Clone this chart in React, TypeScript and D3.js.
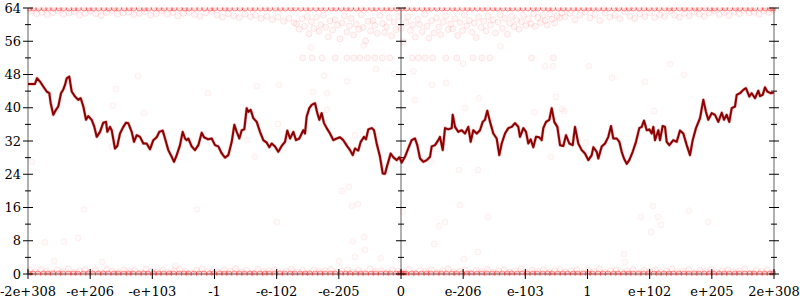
import React from 'react';
import * as d3 from 'd3';

// x axis: ordered positions (100 units per labelled tick)
const xTickLabels = ['-2e+308', '-e+206', '-e+103', '-1', '-e-102', '-e-205', '0', 'e-206', 'e-103', '1', 'e+102', 'e+205', '2e+308'];
const xTickPos = [0, 100, 200, 300, 400, 500, 600, 700, 800, 900, 1000, 1100, 1200];
const yMajorTicks = [0, 8, 16, 24, 32, 40, 48, 56, 64];
const yMinorTicks = [4, 12, 20, 28, 36, 44, 52, 60];
const axisPositions = [0, 600, 1200];

// running-average line
const lineData: [number, number][] = [
  [0, 45.7], [11, 45.7], [14.5, 47.1], [19.3, 46.3], [24.6, 45.1], [30.1, 43.9], [34.3, 43.5], [36.5, 41.1], [40.7, 38.3], [45, 39.5],
  [48.7, 40.3], [53.1, 43.5], [56.8, 44.4], [59.5, 45.5], [62.3, 47.1], [66.4, 47.5], [70.3, 43.9], [75.6, 42.7], [80.9, 41.9], [84.8, 42.3],
  [89, 40.3], [93.3, 37.1], [97, 38], [102.5, 37.1], [106.7, 35.4], [110.5, 33], [115.8, 34.2], [121.1, 36.4], [125.5, 36.6], [127.6, 34.2],
  [131.9, 35.4], [134.6, 34.6], [139.9, 30.2], [143.6, 30.8], [148, 33.8], [153.3, 35.4], [157.6, 36.4], [161.3, 36.3], [166.8, 34.2], [170.5, 31.8],
  [174.9, 33.4], [180.2, 33], [185.5, 31.4], [190.9, 31.4], [196.2, 30], [201.6, 32.2], [207, 32.9], [211.2, 34.2], [216.7, 34.5], [220.4, 32.6],
  [225.7, 29.8], [231.2, 28.2], [234.9, 27], [239.2, 28.6], [244.5, 31], [248.8, 34.2], [252.6, 32.6], [255.3, 32.2], [257.9, 32.6], [263.3, 30.7],
  [268.6, 29.8], [274, 31], [279.4, 34], [283.1, 32.9], [290, 32.4], [295.5, 32.6], [300.8, 31], [306.1, 30.7], [311.6, 29], [316.9, 28],
  [322.2, 28.6], [327.7, 31.8], [331.9, 35.9], [335.7, 34.2], [339.9, 32.6], [343.8, 34.6], [347.9, 34.8], [351.8, 39.9], [354.4, 39], [358.2, 39.5],
  [362.4, 37.5], [367.9, 36.6], [373.2, 34.2], [378.5, 32.2], [384, 31.6], [388.2, 30.5], [392, 31.4], [397.3, 30.7], [402.6, 29.4], [408.1, 30.8],
  [413.4, 31.8], [417.1, 34.5], [421.5, 32.6], [426.8, 34.2], [431.1, 32.2], [436.4, 32.6], [442.8, 34.6], [445.6, 33.8], [448.3, 37.9], [452.5, 39.9],
  [456.4, 40.7], [461.7, 41.1], [465.4, 38.7], [468.6, 37.1], [472.4, 38.7], [476.1, 36.3], [480.5, 35.1], [485.8, 33.8], [491.1, 32.2], [496.6, 32.6],
  [501.9, 32.9], [507.2, 32.2], [513.6, 30.7], [518, 29.8], [522.3, 28.6], [526, 30.2], [531.3, 29.7], [535.2, 31.8], [540.5, 33], [543.7, 32.4],
  [547.4, 34.8], [552.9, 35.1], [556.6, 34.6], [560.9, 31.4], [566.2, 28.2], [570.6, 24.2], [574.3, 24.1], [578, 26.2], [583.4, 29], [587.6, 28.1],
  [593.1, 27.4], [597.3, 28.1], [601.1, 26.8], [606.4, 28.2], [611.7, 30.2], [617.2, 32.2], [622.5, 32.6], [626.2, 31], [630.6, 27.8], [635.9, 27],
  [641.4, 27.4], [646.7, 28.2], [649.4, 30.7], [654.7, 31], [660, 32.2], [662.7, 33], [667.1, 29.8], [670.8, 35.1], [676.1, 34.8], [681.6, 35.1],
  [683.2, 38.3], [686.9, 35.4], [692.2, 34.2], [697.6, 34.6], [703, 33.8], [708.3, 35.4], [712.1, 31.8], [716.3, 34.6], [721.8, 33.8], [727.1, 34.6],
  [731.4, 36.6], [735.1, 37.1], [738.8, 39.3], [743.2, 36.6], [748.5, 33.8], [753.9, 32.6], [758.1, 28.6], [762, 31.4], [767.3, 33.8], [772.6, 35.1],
  [778.1, 35.4], [783.4, 36.3], [788.7, 35.4], [791.4, 33], [796.8, 35.1], [801.1, 34.2], [804.8, 31.4], [808.6, 32.4], [812.8, 30.5], [817.2, 33],
  [822.5, 32.9], [826.3, 32.2], [828.9, 35.1], [833.3, 36.6], [838.6, 37.1], [842.4, 39.9], [846.6, 36.6], [851.5, 35.4], [855.8, 31], [861.1, 30.8],
  [865.4, 33.4], [870.7, 31.4], [876.2, 31], [879.9, 35.4], [885.2, 31.4], [890.7, 29.8], [896, 29], [901.3, 27.4], [906.8, 28.6], [909.4, 30.5],
  [914.8, 29.4], [917.4, 27.8], [922.9, 30.7], [928.2, 31.4], [933.5, 33], [937.8, 35.6], [941.5, 32.6], [947, 32.6], [951.2, 31.8], [955, 29.4],
  [958.7, 27.8], [963.1, 26.5], [967.2, 27.4], [972.7, 29.4], [978, 31.8], [983.3, 35.1], [987.2, 35.4], [990.9, 36.9], [995.2, 34.6], [999.4, 34.8],
  [1003.3, 33.8], [1005.9, 35.4], [1008.6, 32.2], [1013.9, 34.6], [1016.6, 32.2], [1020.9, 35.6], [1024.7, 35.4], [1027.4, 31.8], [1031.6, 31], [1038, 32.2],
  [1043.5, 31.8], [1048.8, 34.5], [1054.1, 33.8], [1059.6, 31], [1064.9, 28.6], [1069.2, 32.2], [1074.5, 35.1], [1081, 37.5], [1086.3, 41.9], [1090.6, 39],
  [1094.3, 37.1], [1099.8, 38.7], [1105.1, 38.3], [1110.4, 36.6], [1115.9, 38.8], [1119.6, 37.1], [1123.9, 38.3], [1128.1, 36.6], [1132, 39.9], [1137.3, 40.3],
  [1140, 43.1], [1145.3, 43.5], [1150.6, 44.3], [1154.9, 44.7], [1160.3, 42.7], [1164.1, 43.5], [1169.5, 42.3], [1174.8, 44.1], [1177.5, 42.8], [1181.8, 43.1],
  [1185.5, 44.9], [1189.3, 43.9], [1194.7, 43.5], [1200, 43.7],
];

// samples that hit the upper bound (64)
const edgeTopU = [
  2, 9, 17, 26, 33, 41, 50, 57, 66, 74, 81, 90, 98, 105, 114, 122, 130, 139, 146, 155, 163, 170, 179, 187, 194, 203, 211, 219, 228, 235,
  244, 252, 259, 268, 276, 284, 293, 300, 309, 317, 324, 333, 341, 349, 358, 365, 374, 382, 389, 398, 406, 414, 423, 430, 439, 447, 454, 463, 471, 479,
  488, 495, 504, 512, 519, 528, 536, 544, 553, 560, 569, 577, 584, 593, 601, 609, 618, 625, 634, 642, 649, 658, 666, 674, 683, 690, 699, 707, 714, 723,
  731, 739, 748, 755, 764, 772, 779, 788, 796, 804, 813, 820, 829, 837, 844, 853, 861, 869, 878, 885, 894, 902, 909, 918, 926, 934, 943, 950, 959, 967,
  974, 983, 991, 999, 1008, 1015, 1024, 1032, 1039, 1048, 1056, 1064, 1073, 1080, 1089, 1097, 1104, 1113, 1121, 1129, 1138, 1145, 1154, 1162, 1169, 1178, 1186, 1194, 1199,
];

// samples that hit the lower bound (0)
const edgeBottomU = [
  1, 8, 16, 25, 32, 40, 49, 56, 65, 73, 80, 89, 97, 104, 113, 121, 129, 138, 145, 154, 162, 169, 178, 186, 193, 202, 210, 218, 227, 234,
  243, 251, 258, 267, 275, 283, 292, 299, 308, 316, 323, 332, 340, 348, 357, 364, 373, 381, 388, 397, 405, 413, 422, 429, 438, 446, 453, 462, 470, 478,
  487, 494, 503, 511, 518, 527, 535, 543, 552, 559, 568, 576, 583, 592, 598, 601, 604, 608, 617, 624, 633, 641, 648, 657, 665, 673, 682, 689, 698, 706,
  713, 722, 730, 738, 747, 754, 763, 771, 778, 787, 795, 803, 812, 819, 828, 836, 843, 852, 860, 868, 877, 884, 893, 901, 908, 917, 925, 933, 942, 949,
  958, 966, 973, 982, 990, 998, 1007, 1014, 1023, 1031, 1038, 1047, 1055, 1063, 1072, 1079, 1088, 1096, 1103, 1112, 1120, 1128, 1137, 1144, 1153, 1161, 1168, 1177, 1185, 1193, 1199,
];
// how many samples pile up at each bound position
const edgeRepeat = 5;

// samples just below the upper bound
const nearTop: [number, number][] = [
  [5, 63.2], [14, 62.6], [22, 63.0], [31, 62.4], [40, 62.9], [48, 63.3], [57, 62.5], [66, 62.8], [74, 63.1], [83, 62.3], [92, 62.7], [100, 63.2],
  [109, 62.6], [118, 62.2], [126, 62.9], [135, 63.4], [144, 62.5], [153, 62.8], [162, 63.0], [170, 62.4], [179, 62.7], [188, 63.1], [197, 62.3],
  [206, 62.6], [215, 63.3], [224, 62.5], [233, 62.9], [241, 62.1], [250, 62.7], [259, 63.0], [268, 62.4], [277, 62.0], [286, 62.8], [295, 63.2],
  [304, 62.3], [313, 61.8], [322, 62.6], [331, 62.1], [340, 61.7], [349, 62.5], [358, 61.9], [366, 62.3], [375, 61.5], [384, 62.0], [393, 61.2],
  [402, 61.8], [411, 60.8], [420, 61.5], [428, 60.5],
  [432, 60.2], [436, 58.9], [441, 61.4], [445, 59.6], [449, 62.0], [452, 57.8], [456, 60.7], [460, 59.1], [464, 61.8], [468, 58.4], [471, 60.0],
  [475, 62.3], [479, 59.4], [483, 57.1], [486, 60.9], [490, 58.7], [494, 61.2], [498, 59.9], [502, 56.6], [505, 60.4], [509, 62.1], [513, 58.2],
  [517, 59.7], [520, 61.5], [524, 57.5], [528, 60.1], [532, 58.9], [536, 62.4], [539, 59.3], [543, 56.1], [547, 60.8], [551, 58.5], [555, 61.0],
  [558, 59.8], [562, 57.9], [566, 62.2], [570, 60.3], [574, 58.1], [577, 59.5], [581, 61.7], [585, 57.3], [589, 60.6], [592, 58.8], [596, 62.0],
  [600, 59.2], [604, 55.9], [608, 60.5], [611, 61.9], [615, 58.6], [619, 59.9], [623, 57.0], [627, 61.3], [630, 60.0], [634, 58.3], [638, 62.5],
  [642, 59.6], [645, 56.8], [649, 60.9], [653, 58.0], [657, 61.6], [661, 59.4], [664, 57.6], [668, 60.7], [672, 62.1], [676, 58.8], [680, 60.2],
  [683, 59.0], [687, 61.4], [691, 57.4], [695, 60.5], [699, 58.6], [702, 62.3], [706, 59.7], [710, 61.0], [714, 58.2], [718, 60.4], [721, 56.9],
  [725, 61.8], [729, 59.3], [733, 60.8], [737, 58.5], [740, 62.0], [744, 59.9], [748, 61.2], [752, 58.0], [756, 60.6], [759, 62.4], [763, 59.1],
  [767, 61.5], [771, 57.7], [775, 60.3], [778, 62.0], [782, 59.5], [786, 61.1], [790, 58.9], [794, 60.7], [797, 62.3], [801, 59.8], [805, 61.4],
  [809, 60.2], [813, 62.6], [816, 59.6], [820, 61.7], [824, 60.5], [828, 62.2], [832, 61.0], [835, 59.9], [839, 62.5], [843, 61.3], [847, 60.4],
  [851, 62.1], [855, 61.6], [859, 62.8],
  [864, 61.9], [872, 62.7], [880, 61.2], [888, 62.3], [896, 63.0], [904, 61.6], [912, 62.4], [920, 61.0], [928, 62.8], [936, 61.8], [944, 62.2],
  [952, 61.4], [960, 63.1], [968, 62.0], [976, 61.5], [984, 62.6], [992, 61.9], [1000, 62.9], [1008, 61.7], [1016, 62.4], [1024, 62.0], [1032, 63.2],
  [1040, 62.3], [1048, 61.8], [1056, 62.7], [1064, 62.1], [1072, 63.0], [1080, 62.5], [1088, 62.0], [1096, 62.8], [1104, 63.3], [1112, 62.4],
  [1120, 62.9], [1128, 62.2], [1136, 63.1], [1144, 62.6], [1152, 63.4], [1160, 62.8], [1168, 63.0], [1176, 62.5], [1184, 63.3], [1192, 62.9], [1199, 63.5],
  [442, 52], [457, 52], [473, 52], [494, 52], [513, 52], [524, 52], [534, 52], [546, 52], [558, 52], [570, 52], [582, 52], [618, 52], [628, 52],
  [639, 52], [651, 52], [672, 52], [690, 52], [716, 52], [730, 52], [743, 52], [810, 52], [845, 52],
];

// samples just above the lower bound
const nearBottom: [number, number][] = [
  [3, 0.9], [12, 0.5], [21, 1.1], [30, 0.7], [39, 0.3], [47, 1.0], [56, 0.6], [65, 1.2], [74, 0.4], [83, 0.8], [92, 1.0], [100, 0.5], [109, 0.9],
  [118, 0.3], [127, 1.1], [136, 0.7], [145, 0.4], [154, 1.0], [163, 0.6], [172, 0.9], [181, 0.3], [190, 1.2], [199, 0.7], [208, 0.5], [217, 1.0],
  [226, 0.4], [235, 0.8], [244, 1.1], [253, 0.6], [262, 0.3], [271, 0.9], [280, 1.2], [289, 0.5], [298, 0.8], [307, 0.4], [316, 1.0], [325, 0.7],
  [334, 1.3], [343, 0.5], [352, 0.9], [361, 0.3], [370, 1.1], [379, 0.6], [388, 0.8], [397, 1.0], [406, 0.4], [415, 0.7], [424, 1.2], [433, 0.5],
  [442, 0.9], [451, 0.3], [460, 1.0], [469, 0.6], [478, 0.8], [487, 1.1], [496, 0.4], [505, 0.7], [514, 1.0], [523, 0.5], [532, 0.9], [541, 0.3],
  [550, 1.2], [559, 0.6], [568, 0.8], [577, 0.4], [586, 1.0], [595, 0.7], [604, 0.5], [613, 1.1], [622, 0.3], [631, 0.9], [640, 0.6], [649, 1.0],
  [658, 0.4], [667, 0.8], [676, 1.2], [685, 0.5], [694, 0.7], [703, 1.0], [712, 0.3], [721, 0.9], [730, 0.6], [739, 1.1], [748, 0.4], [757, 0.8],
  [766, 1.0], [775, 0.5], [784, 0.7], [793, 1.2], [802, 0.3], [811, 0.9], [820, 0.6], [829, 1.0], [838, 0.4], [847, 0.8], [856, 1.1], [865, 0.5],
  [874, 0.7], [883, 1.0], [892, 0.3], [901, 0.9], [910, 0.6], [919, 1.2], [928, 0.4], [937, 0.8], [946, 1.0], [955, 0.5], [964, 0.7], [973, 1.1],
  [982, 0.3], [991, 0.9], [1000, 0.6], [1009, 1.0], [1018, 0.4], [1027, 0.8], [1036, 1.2], [1045, 0.5], [1054, 0.7], [1063, 1.0], [1072, 0.3],
  [1081, 0.9], [1090, 0.6], [1099, 1.1], [1108, 0.4], [1117, 0.8], [1126, 1.0], [1135, 0.5], [1144, 0.7], [1153, 1.2], [1162, 0.3], [1171, 0.9],
  [1180, 0.6], [1189, 1.0], [1198, 0.4],
];

// scattered samples in the middle range
const scattered: [number, number][] = [
  [176.9, 47.6], [141.6, 44.5], [136.7, 40.5], [186.6, 38.8], [289.5, 43.5], [368.4, 45.2], [352.3, 32.2], [365.2, 28.2], [6.4, 27.0], [135.1, 30.6],
  [27.3, 7.6], [57.9, 7.8], [80.4, 8.7], [90.1, 15.6], [41.8, 3.1], [119.0, 2.9], [236.5, 2.0], [271.9, 15.6], [521.2, 16.4], [530.8, 16.8],
  [603.2, 15.0], [522.8, 7.9], [540.5, 8.9], [542.1, 5.8], [526.0, 4.1], [500.3, 3.1], [567.8, 3.8], [661.1, 11.5], [670.8, 12.5], [653.1, 7.2],
  [694.9, 16.6], [723.9, 5.3], [701.3, 3.6], [740.0, 13.7], [986.1, 13.7], [1005.4, 16.4], [1013.4, 13.7], [1018.2, 11.8], [1002.2, 10.1],
  [1063.5, 15.2], [1094.1, 12.5], [958.7, 4.8], [960.3, 2.9], [1032.7, 50.5], [939.4, 47.2], [992.5, 46.2], [1055.2, 47.9], [403.8, 45.5],
  [458.5, 43.8], [481.0, 43.5], [649.9, 45.5], [672.4, 46.0], [622.5, 41.9], [725.5, 42.3], [703.0, 39.9], [481.0, 39.5], [402.2, 36.1],
  [526.0, 33.4], [648.3, 27.1], [693.3, 25.0], [723.9, 25.0], [516.4, 21.0], [505.1, 20.0], [400.5, 12.5], [831.6, 50.0], [844.5, 50.0],
  [902.4, 50.0], [849.3, 42.6], [859.0, 39.7], [814.0, 38.9], [862.2, 39.2], [1007.0, 39.2], [897.6, 31.6], [802.7, 33.4], [841.3, 28.2],
  [476.2, 47.7], [513.2, 46.4], [588.8, 48.2], [560.0, 49.3], [620.0, 48.8], [700.0, 50.6], [760.0, 54.8], [455.0, 54.5], [540.0, 55.0],
];

type Pt = { u: number; v: number; op: number };

export default function App() {
  const W = 800;
  const H = 300;
  const x = d3.scaleLinear().domain([0, 1200]).range([28, 774]);
  const y = d3.scaleLinear().domain([0, 64]).range([274, 8]);
  const line = d3.line<[number, number]>().x((d) => x(d[0])).y((d) => y(d[1]));

  const edgeOp = 1 - Math.pow(1 - 0.09, edgeRepeat);
  const points: Pt[] = [
    ...scattered.map(([u, v]) => ({ u, v, op: 0.06 })),
    ...nearTop.map(([u, v]) => ({ u, v, op: 0.09 })),
    ...nearBottom.map(([u, v]) => ({ u, v, op: 0.09 })),
    ...edgeTopU.map((u) => ({ u, v: 64, op: edgeOp })),
    ...edgeBottomU.map((u) => ({ u, v: 0, op: edgeOp })),
  ];

  const font = "'DejaVu Serif', serif";

  return (
    <svg width={W} height={H} style={{ position: 'absolute', left: 0, top: 0, background: '#fff' }}>
      <defs>
        <clipPath id="plotClip">
          <rect x={27} y={7.5} width={749} height={268} />
        </clipPath>
      </defs>
      {/* axis lines */}
      {axisPositions.map((p) => (
        <line key={'ax' + p} x1={x(p)} x2={x(p)} y1={y(64)} y2={y(0)} stroke="#b0b0b0" strokeWidth={2} />
      ))}
      <line x1={x(0)} x2={x(1200)} y1={y(0)} y2={y(0)} stroke="#b0b0b0" strokeWidth={2} />
      {/* points */}
      <g clipPath="url(#plotClip)">
        {points.map((d, i) => (
          <circle
            key={i}
            cx={x(d.u)}
            cy={y(d.v)}
            r={3}
            fill="#ff0000"
            fillOpacity={d.op * 0.35}
            stroke="#ff0000"
            strokeOpacity={d.op}
            strokeWidth={1}
          />
        ))}
      </g>
      {/* ticks on vertical axes */}
      {axisPositions.map((p) => (
        <g key={'t' + p}>
          {yMajorTicks.map((t) => (
            <line key={'M' + t} x1={x(p) - 5} x2={x(p) + 5} y1={y(t)} y2={y(t)} stroke="#000" strokeWidth={1} />
          ))}
          {yMinorTicks.map((t) => (
            <line key={'m' + t} x1={x(p) - 3} x2={x(p) + 3} y1={y(t)} y2={y(t)} stroke="#000" strokeWidth={1} />
          ))}
        </g>
      ))}
      {/* x ticks */}
      {xTickPos.map((p) => (
        <line key={'xt' + p} x1={x(p)} x2={x(p)} y1={y(0) - 5} y2={y(0) + 5} stroke="#000" strokeWidth={1} />
      ))}
      {/* y labels */}
      {yMajorTicks.map((t) => (
        <text key={'yl' + t} x={21} y={y(t)} dy="0.35em" textAnchor="end" fontFamily={font} fontSize={13} fill="#000">
          {t}
        </text>
      ))}
      {/* x labels */}
      {xTickPos.map((p, i) => (
        <text key={'xl' + p} x={x(p)} y={296} textAnchor="middle" fontFamily={font} fontSize={13} fill="#000">
          {xTickLabels[i]}
        </text>
      ))}
      {/* line */}
      <path d={line(lineData) || ''} fill="none" stroke="#cc3333" strokeOpacity={0.35} strokeWidth={3.2} strokeLinejoin="round" />
      <path d={line(lineData) || ''} fill="none" stroke="#8b0000" strokeWidth={2} strokeLinejoin="round" />
    </svg>
  );
}
